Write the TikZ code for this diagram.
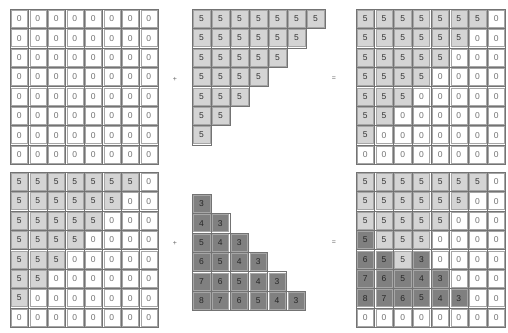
\documentclass[tikz,border=0pt]{standalone}
\usepackage{fontspec}
\setmainfont{Liberation Sans}
\begin{document}
\begin{tikzpicture}[x=1pt,y=-1pt]
\def\cw{18.5}\def\ch{19.4}
\tikzset{
  gridl/.style={draw=black!55,line width=0.5pt},
  cellbox/.style={draw=black!35,line width=0.4pt,inner sep=0pt,
    minimum width={(\cw-2.4)*1pt},minimum height={(\ch-2.4)*1pt},
    font=\fontsize{8.5}{9}\selectfont},
  Z/.style={fill=white,text=black!55},
  L/.style={fill=black!17,text=black!80},
  D/.style={fill=black!50,text=black!85},
  op/.style={font=\fontsize{7}{7}\selectfont,text=black!60,inner sep=0pt}
}
\newcommand\mycell[5]{%
  \pgfmathsetmacro\myxx{#2}\pgfmathsetmacro\myyy{#3}%
  \draw[gridl] (\myxx,\myyy) rectangle ++(\cw,\ch);
  \node[cellbox,#4] (#1) at (\myxx+\cw/2,\myyy+\ch/2) {#5};}
\useasboundingbox[fill=white] (0,0) rectangle (508,332);
% top-left: all zeros
\def\cw{18.5}
\foreach \r in {1,...,8}{\foreach \c in {1,...,8}{
  \mycell{tl-\r-\c}{10+(\c-1)*\cw}{9+(\r-1)*\ch}{Z}{0}}}
% top-middle triangle of fives
\def\cw{19}
\foreach \r in {1,...,7}{\pgfmathtruncatemacro\nn{8-\r}
  \foreach \c in {1,...,\nn}{
  \mycell{tm-\r-\c}{192+(\c-1)*\cw}{9+(\r-1)*\ch}{L}{5}}}
% top-right result
\def\cw{18.7}
\foreach \r in {1,...,8}{\foreach \c in {1,...,8}{
  \pgfmathtruncatemacro\isf{\c<=8-\r ? 1 : 0}
  \ifnum\isf=1 \mycell{tr-\r-\c}{356+(\c-1)*\cw}{9+(\r-1)*\ch}{L}{5}
  \else \mycell{tr-\r-\c}{356+(\c-1)*\cw}{9+(\r-1)*\ch}{Z}{0}\fi}}
% bottom-left
\def\cw{18.5}
\foreach \r in {1,...,8}{\foreach \c in {1,...,8}{
  \pgfmathtruncatemacro\isf{\c<=8-\r ? 1 : 0}
  \ifnum\isf=1 \mycell{bl-\r-\c}{10+(\c-1)*\cw}{172+(\r-1)*\ch}{L}{5}
  \else \mycell{bl-\r-\c}{10+(\c-1)*\cw}{172+(\r-1)*\ch}{Z}{0}\fi}}
% bottom-middle dark triangle
\def\cw{18.9}
\foreach \r in {1,...,6}{\foreach \c in {1,...,\r}{
  \pgfmathtruncatemacro\vv{\r+3-\c}
  \mycell{bm-\r-\c}{192+(\c-1)*\cw}{194+(\r-1)*\ch}{D}{\vv}}}
% bottom-right result
\def\cw{18.7}
\foreach \r/\c/\s/\t in {
 1/1/L/5,1/2/L/5,1/3/L/5,1/4/L/5,1/5/L/5,1/6/L/5,1/7/L/5,1/8/Z/0,
 2/1/L/5,2/2/L/5,2/3/L/5,2/4/L/5,2/5/L/5,2/6/L/5,2/7/Z/0,2/8/Z/0,
 3/1/L/5,3/2/L/5,3/3/L/5,3/4/L/5,3/5/L/5,3/6/Z/0,3/7/Z/0,3/8/Z/0,
 4/1/D/5,4/2/L/5,4/3/L/5,4/4/L/5,4/5/Z/0,4/6/Z/0,4/7/Z/0,4/8/Z/0,
 5/1/D/6,5/2/D/5,5/3/L/5,5/4/D/3,5/5/Z/0,5/6/Z/0,5/7/Z/0,5/8/Z/0,
 6/1/D/7,6/2/D/6,6/3/D/5,6/4/D/4,6/5/D/3,6/6/Z/0,6/7/Z/0,6/8/Z/0,
 7/1/D/8,7/2/D/7,7/3/D/6,7/4/D/5,7/5/D/4,7/6/D/3,7/7/Z/0,7/8/Z/0,
 8/1/Z/0,8/2/Z/0,8/3/Z/0,8/4/Z/0,8/5/Z/0,8/6/Z/0,8/7/Z/0,8/8/Z/0}{
  \mycell{br-\r-\c}{356+(\c-1)*\cw}{172+(\r-1)*\ch}{\s}{\t}}
% operators
\node[op] (plus1) at (175,79) {+};
\node[op] (eq1) at (334,79) {=};
\node[op] (plus2) at (175,243) {+};
\node[op] (eq2) at (334,243) {=};
\end{tikzpicture}
\end{document}
